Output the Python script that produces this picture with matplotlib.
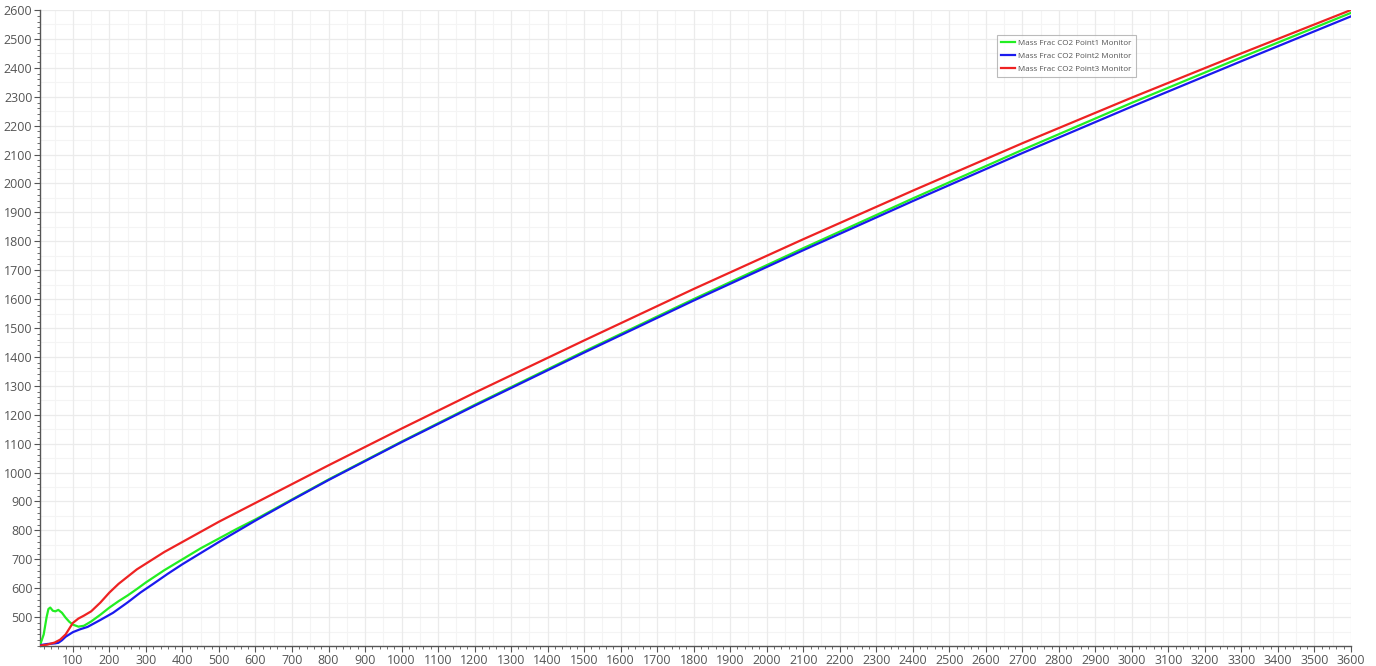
import matplotlib
matplotlib.use('Agg')
import matplotlib.pyplot as plt
from matplotlib.ticker import MultipleLocator
import numpy as np

# time (s) and CO2 mass fraction monitor values
t_p1 = [10, 20, 28, 33, 38, 45, 52, 60, 70, 80, 90, 100, 115, 130, 150, 175, 200, 225,
        250, 275, 300, 350, 400, 450, 500, 550, 600, 700, 800, 1000, 1200, 1500, 1800,
        2100, 2400, 2700, 3000, 3300, 3600]
v_p1 = [403, 440, 500, 528, 533, 522, 520, 525, 515, 498, 484, 474, 467, 470, 485, 508,
        533, 555, 575, 597, 620, 662, 700, 738, 772, 806, 838, 907, 976, 1107, 1234, 1419,
        1600, 1776, 1948, 2116, 2279, 2436, 2590]

t_p2 = [10, 30, 50, 60, 70, 80, 100, 120, 140, 175, 210, 250, 285, 320, 360, 400, 500,
        600, 700, 800, 1000, 1200, 1500, 1800, 2100, 2400, 2700, 3000, 3300, 3600]
v_p2 = [403, 407, 409, 411, 420, 432, 448, 458, 466, 490, 515, 551, 585, 615, 650, 683,
        760, 834, 905, 974, 1105, 1231, 1415, 1595, 1769, 1939, 2105, 2266, 2423, 2578]

t_p3 = [10, 30, 50, 65, 80, 90, 100, 115, 130, 150, 175, 200, 225, 250, 275, 300, 350,
        400, 500, 600, 800, 1000, 1200, 1500, 1800, 2100, 2400, 2700, 3000, 3300, 3600]
v_p3 = [401, 405, 412, 422, 440, 460, 480, 495, 505, 520, 550, 585, 615, 640, 665, 685,
        725, 760, 830, 895, 1025, 1152, 1276, 1457, 1635, 1807, 1975, 2139, 2297, 2450,
        2600]

names = ['Mass Frac CO2 Point1 Monitor', 'Mass Frac CO2 Point2 Monitor',
         'Mass Frac CO2 Point3 Monitor']

plt.rcParams['font.family'] = ['Open Sans', 'DejaVu Sans']

fig = plt.figure(figsize=(13.76, 6.66), dpi=100)
ax = fig.add_axes([0.0291, 0.0300, 0.9527, 0.9550])

# light grid, with an extra fainter line every 50
for xv in range(50, 3601, 100):
    ax.axvline(xv, color='#f4f4f4', lw=0.8, zorder=0)
for yv in range(450, 2601, 100):
    ax.axhline(yv, color='#f4f4f4', lw=0.8, zorder=0)
ax.grid(True, which='major', color='#ebebeb', lw=0.9, zorder=0)

ax.plot(t_p1, v_p1, color='#22ee22', lw=1.6, label=names[0], zorder=3)
ax.plot(t_p2, v_p2, color='#1a1aee', lw=1.6, label=names[1], zorder=3)
ax.plot(t_p3, v_p3, color='#ee2222', lw=1.6, label=names[2], zorder=4)

ax.set_xlim(10, 3600)
ax.set_ylim(400, 2600)
ax.set_xticks(range(100, 3601, 100))
ax.set_yticks(range(500, 2601, 100))
ax.xaxis.set_minor_locator(MultipleLocator(20))
ax.yaxis.set_minor_locator(MultipleLocator(20))
ax.tick_params(which='major', length=4, color='#555555', labelsize=9,
               labelcolor='#555555', pad=1.5)
ax.tick_params(which='minor', length=2.5, color='#555555')

for s in ['top', 'right']:
    ax.spines[s].set_visible(False)
for s in ['left', 'bottom']:
    ax.spines[s].set_color('#555555')
    ax.spines[s].set_linewidth(1.0)

leg = ax.legend(loc='upper right', bbox_to_anchor=(0.839, 0.967), fontsize=5.8,
                frameon=True, fancybox=False, edgecolor='#aaaaaa', handlelength=1.8,
                borderpad=0.5, labelspacing=0.7, handletextpad=0.4)
for txt in leg.get_texts():
    txt.set_color('#555555')
leg.get_frame().set_linewidth(0.8)

fig.savefig('out.png', dpi=100, facecolor='white')
